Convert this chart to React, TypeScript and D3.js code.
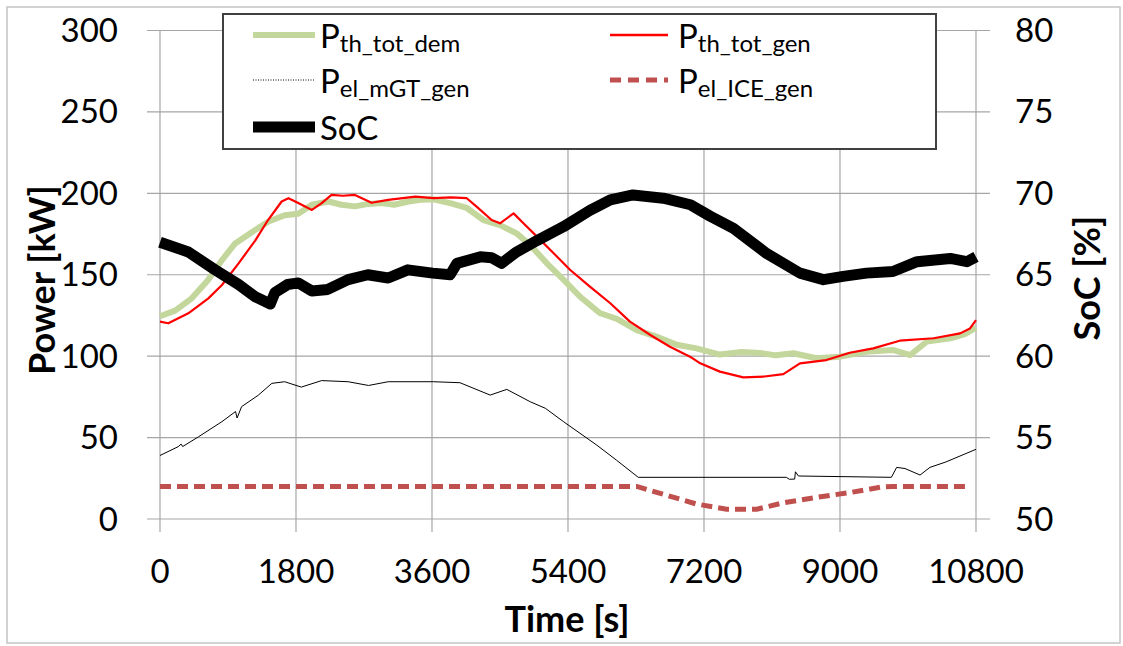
import React from 'react'
import { scaleLinear, line, curveLinear } from 'd3'

// time axis
const timeTicks = [0, 1800, 3600, 5400, 7200, 9000, 10800]
const powerTicks = [0, 50, 100, 150, 200, 250, 300]
const socTicks = [50, 55, 60, 65, 70, 75, 80]

// P_th_tot_dem [kW]
const demTime = [0, 200, 420, 640, 820, 990, 1210, 1430, 1650, 1830, 2010, 2230, 2400, 2580, 2760, 2930, 3100, 3290, 3450, 3620, 3840, 4060, 4280, 4500, 4720, 4900, 5120, 5340, 5560, 5820, 6040, 6310, 6570, 6840, 7100, 7410, 7700, 7940, 8150, 8380, 8690, 9000, 9350, 9700, 9930, 10150, 10460, 10650, 10800]
const demValues = [124.5, 128, 135.5, 147, 159, 169, 176, 182.5, 186.5, 187.5, 193, 195, 193, 192, 193.5, 194, 193, 195, 196, 196.3, 194, 191, 183.6, 180.5, 175.4, 168.3, 157, 147, 136.5, 126.5, 123, 116, 112, 107, 104.8, 101, 102.5, 102, 100.5, 101.8, 98.7, 99.7, 102.7, 103.8, 100.7, 109, 111, 113.5, 117.5]

// P_th_tot_gen [kW]
const genTime = [0, 110, 375, 640, 820, 1040, 1260, 1430, 1610, 1700, 1830, 2010, 2140, 2270, 2420, 2580, 2800, 3020, 3380, 3620, 3850, 4060, 4190, 4390, 4500, 4680, 4810, 4990, 5210, 5430, 5690, 5960, 6220, 6490, 6750, 7015, 7150, 7410, 7720, 8000, 8250, 8470, 8820, 9130, 9440, 9790, 10240, 10590, 10720, 10800]
const genValues = [121.2, 120.2, 126.3, 135.5, 143.7, 157, 171, 183.6, 195, 197, 194, 189.8, 194, 199, 198.5, 199, 194.2, 196, 198, 197, 197.5, 197, 191.8, 183.6, 181.6, 187.7, 181.6, 173.4, 163.2, 152.9, 142.7, 132.5, 121.2, 113, 105.8, 99.7, 95.6, 90.5, 87, 87.5, 89, 95.6, 97.6, 102.1, 104.8, 109.5, 111, 114, 117, 122.2]

// P_el_mGT_gen [kW]
const mgtTime = [0, 240, 280, 300, 510, 820, 1000, 1020, 1080, 1300, 1480, 1650, 1870, 2140, 2490, 2760, 3020, 3620, 3970, 4370, 4590, 4900, 5100, 5340, 5780, 6040, 6330, 8290, 8330, 8400, 8410, 8450, 9680, 9750, 9860, 10060, 10190, 10400, 10800]
const mgtValues = [39, 44.4, 46, 44.5, 50.5, 59.8, 66, 62, 69, 76, 83.3, 84.3, 81, 85, 84.3, 82, 84.3, 84.3, 83.7, 76.1, 79.6, 72, 68, 59.8, 45.4, 36.2, 25.6, 25.6, 24.4, 24.5, 29, 26.4, 25.6, 31.7, 31, 27, 31.7, 35, 42.8]

// P_el_ICE_gen [kW]
const iceTime = [0, 6310, 6660, 7100, 7500, 7900, 8250, 8690, 9130, 9570, 9700, 10730]
const iceValues = [20, 20, 15.2, 9.2, 6, 6, 10, 13.3, 16.2, 19.8, 20, 20]

// SoC [%]
const socTime = [0, 375, 730, 1040, 1260, 1460, 1520, 1690, 1830, 2010, 2220, 2490, 2750, 3020, 3280, 3610, 3840, 3930, 4240, 4390, 4520, 4720, 4990, 5340, 5690, 5960, 6260, 6660, 7020, 7280, 7590, 8030, 8470, 8780, 9040, 9350, 9700, 10020, 10460, 10680, 10800]
const socValues = [67, 66.4, 65.3, 64.4, 63.65, 63.2, 63.9, 64.4, 64.5, 64, 64.1, 64.7, 65, 64.8, 65.3, 65.1, 65, 65.7, 66.1, 66.05, 65.7, 66.4, 67.1, 67.95, 68.95, 69.6, 69.9, 69.7, 69.3, 68.6, 67.85, 66.3, 65.1, 64.7, 64.9, 65.1, 65.2, 65.8, 66, 65.8, 66.1]

const FONT = 'Lato, "Open Sans", sans-serif'
const GRID = '#a6a6a6'
const GREEN = '#c3d69b'
const RED = '#ff0000'
const ICE = '#c0504d'

const zip = (xs: number[], ys: number[]) => xs.map((x, i) => [x, ys[i]] as [number, number])

export default function App() {
  const width = 1123
  const height = 646
  const left = 160
  const right = 976
  const top = 30.5
  const bottom = 519

  const x = scaleLinear().domain([0, 10800]).range([left, right])
  const y = scaleLinear().domain([0, 300]).range([bottom, top])
  const y2 = scaleLinear().domain([50, 80]).range([bottom, top])

  const pLine = line<[number, number]>().x(d => x(d[0])).y(d => y(d[1])).curve(curveLinear)
  const sLine = line<[number, number]>().x(d => x(d[0])).y(d => y2(d[1])).curve(curveLinear)

  const legendRows = [
    { col: 0, row: 0, main: 'P', sub: 'th_tot_dem', color: GREEN, w: 6, dash: '' },
    { col: 1, row: 0, main: 'P', sub: 'th_tot_gen', color: RED, w: 2.5, dash: '' },
    { col: 0, row: 1, main: 'P', sub: 'el_mGT_gen', color: '#000', w: 1, dash: '1,1.5' },
    { col: 1, row: 1, main: 'P', sub: 'el_ICE_gen', color: ICE, w: 5, dash: '11,7' },
    { col: 0, row: 2, main: 'SoC', sub: '', color: '#000', w: 11, dash: '' },
  ]
  const rowY = [35, 80, 127]
  const colX = [[253, 315, 320], [610, 668, 678]]

  return (
    <svg width={width} height={height} style={{ position: 'absolute', left: 0, top: 0, background: '#fff' }} fontFamily={FONT}>
      <rect x={7} y={7} width={1113} height={636} fill="#fff" stroke="#c4c4c4" strokeWidth={1.5} />

      {/* grid */}
      {powerTicks.map(t => (
        <line key={'h' + t} x1={147} x2={990} y1={y(t)} y2={y(t)} stroke={GRID} strokeWidth={1.2} />
      ))}
      {timeTicks.map(t => (
        <line key={'v' + t} x1={x(t)} x2={x(t)} y1={top} y2={532} stroke={GRID} strokeWidth={1.2} />
      ))}

      {/* tick labels */}
      {powerTicks.map(t => (
        <text key={'pl' + t} x={118} y={y(t) + 11.5} textAnchor="end" fontSize={33}>{t}</text>
      ))}
      {socTicks.map(t => (
        <text key={'sl' + t} x={1015} y={y2(t) + 11.5} fontSize={33}>{t}</text>
      ))}
      {timeTicks.map(t => (
        <text key={'tl' + t} x={x(t)} y={583} textAnchor="middle" fontSize={33}>{t}</text>
      ))}

      {/* axis titles */}
      <text x={567} y={632} textAnchor="middle" fontSize={36} fontWeight="bold">Time [s]</text>
      <text transform="translate(55,280) rotate(-90)" textAnchor="middle" fontSize={36} fontWeight="bold">Power [kW]</text>
      <text transform="translate(1100,278) rotate(-90)" textAnchor="middle" fontSize={36} fontWeight="bold">SoC [%]</text>

      {/* series */}
      <path d={pLine(zip(demTime, demValues)) || ''} fill="none" stroke={GREEN} strokeWidth={6} strokeLinejoin="round" />
      <path d={pLine(zip(genTime, genValues)) || ''} fill="none" stroke={RED} strokeWidth={2.2} strokeLinejoin="round" />
      <path d={pLine(zip(mgtTime, mgtValues)) || ''} fill="none" stroke="#000" strokeWidth={1} />
      <path d={pLine(zip(iceTime, iceValues)) || ''} fill="none" stroke={ICE} strokeWidth={5} strokeDasharray="11,6" />
      <path d={sLine(zip(socTime, socValues)) || ''} fill="none" stroke="#000" strokeWidth={11} strokeLinejoin="round" />

      {/* legend */}
      <rect x={223} y={14} width={713} height={135} fill="#fff" stroke="#404040" strokeWidth={2} />
      {legendRows.map((r, i) => {
        const [x1, x2, tx] = colX[r.col]
        const ly = rowY[r.row]
        return (
          <g key={i}>
            <line x1={x1} x2={x2} y1={ly} y2={ly} stroke={r.color} strokeWidth={r.w} strokeDasharray={r.dash || undefined} />
            <text x={tx} y={ly + 13} fontSize={33}>
              <tspan>{r.main}</tspan>
              {r.sub && <tspan fontSize={24} dy={4}>{r.sub}</tspan>}
            </text>
          </g>
        )
      })}
    </svg>
  )
}
